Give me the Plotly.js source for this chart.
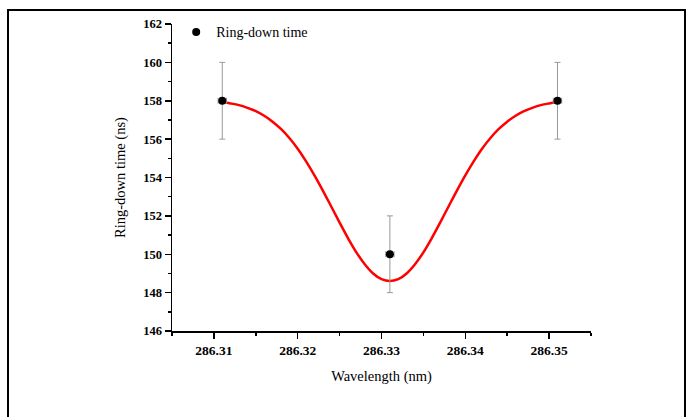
<!DOCTYPE html>
<html>
<head>
<meta charset="utf-8">
<script src="https://cdn.plot.ly/plotly-3.0.1.min.js"></script>
<style>
  html, body { margin: 0; padding: 0; background: #fff; }
  #wrap { position: relative; width: 686px; height: 417px; overflow: hidden; }
  #chart { width: 686px; height: 417px; }
  #frame { position: absolute; left: 7px; top: 9px; width: 679px; height: 430px;
           box-sizing: border-box; border: 2px solid #000; border-bottom: none; pointer-events: none; }
</style>
</head>
<body>
<div id="wrap">
  <div id="chart"></div>
  <div id="frame"></div>
</div>
<script>
// Measured points
const wavelength = [286.311, 286.331, 286.351];
const ringdown = [158, 150, 158];
const yErr = [2, 2, 2];
const xErr = [0.0005, 0.0005, 0.0005];

// Fitted curve
const fitX = [286.311, 286.312, 286.313, 286.314, 286.315, 286.316, 286.317, 286.318, 286.319, 286.320,
              286.321, 286.322, 286.323, 286.324, 286.325, 286.326, 286.327, 286.328, 286.329, 286.330,
              286.331, 286.332, 286.333, 286.334, 286.335, 286.336, 286.337, 286.338, 286.339, 286.340,
              286.341, 286.342, 286.343, 286.344, 286.345, 286.346, 286.347, 286.348, 286.349, 286.350, 286.351];
const fitY = [157.93, 157.86, 157.77, 157.63, 157.46, 157.22, 156.91, 156.53, 156.06, 155.50,
              154.84, 154.11, 153.32, 152.49, 151.65, 150.84, 150.10, 149.48, 149.00, 148.70,
              148.60, 148.70, 149.00, 149.48, 150.10, 150.84, 151.65, 152.49, 153.32, 154.11,
              154.84, 155.50, 156.06, 156.53, 156.91, 157.22, 157.46, 157.63, 157.77, 157.86, 157.93];

const xTicks = [286.31, 286.32, 286.33, 286.34, 286.35];
const xTickText = ['286.31', '286.32', '286.33', '286.34', '286.35'];
const yTicks = [146, 148, 150, 152, 154, 156, 158, 160, 162];

const serif = 'Liberation Serif';

const traces = [
  {
    x: fitX, y: fitY, type: 'scatter', mode: 'lines',
    line: {color: '#ff0000', width: 2.5, shape: 'spline'},
    showlegend: false, hoverinfo: 'skip'
  },
  {
    x: wavelength, y: ringdown, type: 'scatter', mode: 'markers',
    name: 'Ring-down time',
    marker: {color: '#000', size: 8},
    error_y: {type: 'data', array: yErr, visible: true, color: '#999', thickness: 1, width: 3},
    error_x: {type: 'data', array: xErr, visible: true, color: '#999', thickness: 1, width: 3}
  }
];

const layout = {
  width: 686, height: 417,
  margin: {l: 172, r: 95, t: 24, b: 86},
  paper_bgcolor: '#fff', plot_bgcolor: '#fff',
  font: {family: serif, color: '#000'},
  showlegend: true,
  legend: {x: 0.01, y: 1.025, xanchor: 'left', yanchor: 'top', bgcolor: 'rgba(0,0,0,0)',
           font: {family: serif, size: 14, color: '#000'}},
  xaxis: {
    range: [286.305, 286.355],
    tickvals: xTicks, ticktext: xTickText,
    showgrid: false, zeroline: false,
    showline: true, linecolor: '#000', linewidth: 1.5,
    ticks: 'outside', ticklen: 6, tickwidth: 1.5, tickcolor: '#000',
    minor: {dtick: 0.005, tick0: 286.305, ticks: 'outside', ticklen: 3, tickwidth: 1.5, tickcolor: '#000', showgrid: false},
    tickfont: {family: serif, size: 13.5, color: '#000', weight: 'bold'},
    title: {text: 'Wavelength (nm)', font: {family: serif, size: 14.5, color: '#000'}, standoff: 14}
  },
  yaxis: {
    range: [146, 162],
    tickvals: yTicks,
    showgrid: false, zeroline: false,
    showline: true, linecolor: '#000', linewidth: 1.5,
    ticks: 'outside', ticklen: 6, tickwidth: 1.5, tickcolor: '#000',
    minor: {dtick: 1, tick0: 146, ticks: 'outside', ticklen: 3, tickwidth: 1.5, tickcolor: '#000', showgrid: false},
    tickfont: {family: serif, size: 12.5, color: '#000', weight: 'bold'},
    title: {text: 'Ring-down time (ns)', font: {family: serif, size: 14.5, color: '#000'}, standoff: 14}
  }
};

Plotly.newPlot('chart', traces, layout, {displayModeBar: false, staticPlot: true});
</script>
</body>
</html>
